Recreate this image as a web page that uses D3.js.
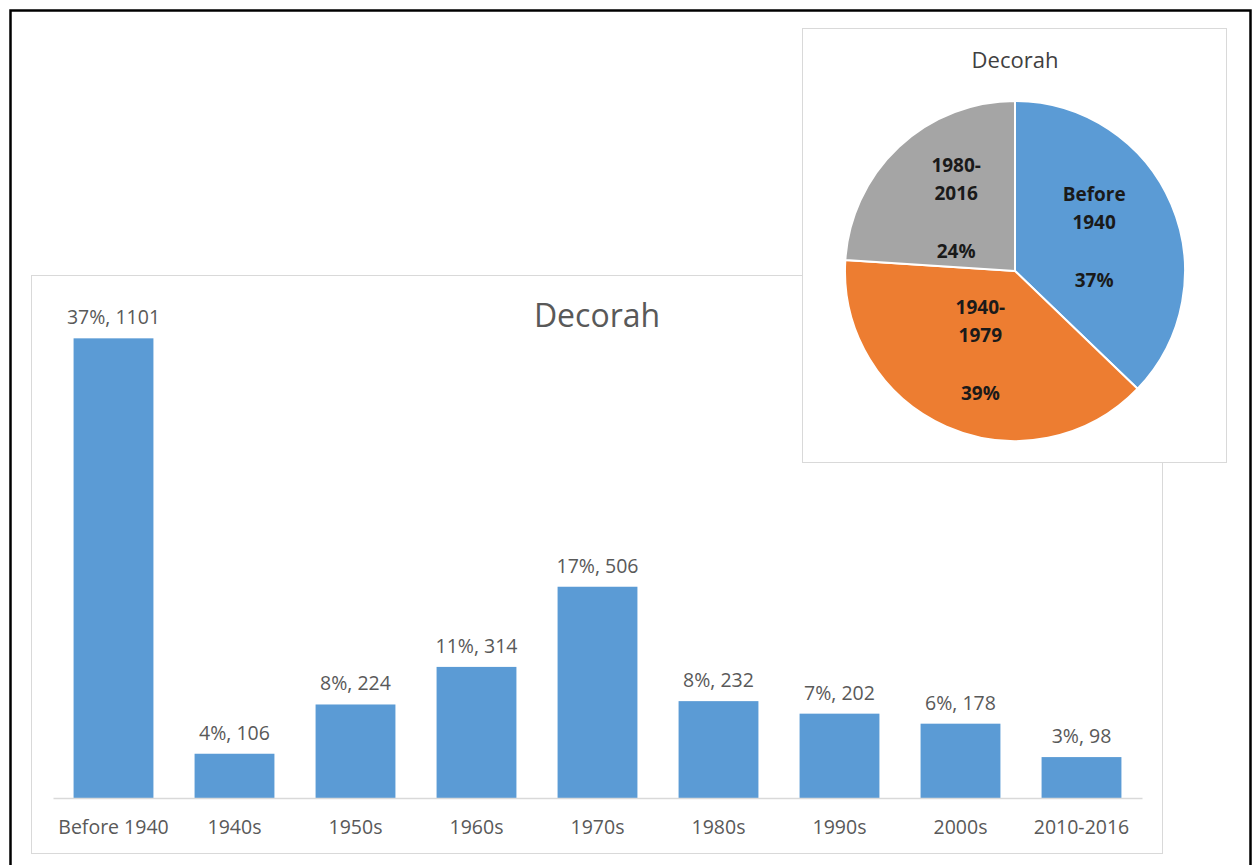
<!DOCTYPE html>
<html>
<head>
<meta charset="utf-8">
<script src="https://cdn.jsdelivr.net/npm/d3@7"></script>
<style>
  body { margin: 0; background: #fff; }
  svg { display: block; }
</style>
</head>
<body>
<svg id="chart" width="1260" height="865"></svg>
<script>
// 막대 차트 데이터
var categories = ["Before 1940", "1940s", "1950s", "1960s", "1970s", "1980s", "1990s", "2000s", "2010-2016"];
var counts = [1101, 106, 224, 314, 506, 232, 202, 178, 98];
var percents = [37, 4, 8, 11, 17, 8, 7, 6, 3];

// 파이 차트 데이터
var pieNames = [["Before", "1940"], ["1940-", "1979"], ["1980-", "2016"]];
var pieValues = [1101, 1150, 710];
var piePercents = [37, 39, 24];
var pieColors = ["#5B9BD5", "#ED7D31", "#A5A5A5"];

var svg = d3.select("#chart");
var font = "'Open Sans', 'Liberation Sans', sans-serif";

// 바깥 검은 테두리
svg.append("rect")
    .attr("x", 10.5).attr("y", 10.5)
    .attr("width", 1240).attr("height", 870)
    .attr("fill", "#fff")
    .attr("stroke", "#000")
    .attr("stroke-width", 2.5);

// 막대 차트 박스
svg.append("rect")
    .attr("x", 31.5).attr("y", 275.5)
    .attr("width", 1131).attr("height", 578)
    .attr("fill", "#fff")
    .attr("stroke", "#d9d9d9");

function drawBarChart() {
    var x = d3.scaleBand()
        .domain(categories)
        .range([53, 1142])
        .paddingInner(0.34)
        .paddingOuter(0.17);

    var y = d3.scaleLinear()
        .domain([0, 1200])
        .range([798, 297]);

    var g = svg.append("g");

    g.selectAll(".bar")
        .data(counts)
        .enter().append("rect")
        .attr("class", "bar")
        .attr("x", function(d, i) { return x(categories[i]); })
        .attr("y", function(d) { return y(d); })
        .attr("width", x.bandwidth())
        .attr("height", function(d) { return y(0) - y(d); })
        .attr("fill", "#5B9BD5");

    // x축
    var axis = g.append("g")
        .attr("transform", "translate(0," + y(0) + ")")
        .call(d3.axisBottom(x).tickSize(0).tickPadding(22));
    axis.select(".domain").attr("stroke", "#d9d9d9").attr("stroke-width", 1.5);
    axis.selectAll("text")
        .style("font-family", font)
        .style("font-size", "19.5px")
        .attr("fill", "#595959");

    // 막대 위 값 라벨
    g.selectAll(".value-text")
        .data(counts)
        .enter().append("text")
        .attr("class", "value-text")
        .attr("x", function(d, i) { return x(categories[i]) + x.bandwidth() / 2; })
        .attr("y", function(d) { return y(d) - 14; })
        .attr("text-anchor", "middle")
        .style("font-family", font)
        .style("font-size", "19.5px")
        .attr("fill", "#595959")
        .text(function(d, i) { return percents[i] + "%, " + d; });

    g.append("text")
        .attr("x", 597).attr("y", 327)
        .attr("text-anchor", "middle")
        .style("font-family", font)
        .style("font-size", "32px")
        .attr("fill", "#595959")
        .text("Decorah");
}

function drawPieChart() {
    svg.append("rect")
        .attr("x", 802.5).attr("y", 28.5)
        .attr("width", 424).attr("height", 434)
        .attr("fill", "#fff")
        .attr("stroke", "#d9d9d9");

    svg.append("text")
        .attr("x", 1015).attr("y", 68)
        .attr("text-anchor", "middle")
        .style("font-family", font)
        .style("font-size", "22px")
        .attr("fill", "#404040")
        .text("Decorah");

    var radius = 170;
    var pie = d3.pie().sort(null).value(function(d) { return d; });
    var arc = d3.arc().innerRadius(0).outerRadius(radius);
    var labelArc = d3.arc().innerRadius(86).outerRadius(86);

    var g = svg.append("g")
        .attr("transform", "translate(1015,271)");

    var slices = pie(pieValues);

    g.selectAll("path")
        .data(slices)
        .enter().append("path")
        .attr("d", arc)
        .attr("fill", function(d, i) { return pieColors[i]; })
        .attr("stroke", "#fff")
        .attr("stroke-width", 2);

    var labels = g.selectAll(".pie-label")
        .data(slices)
        .enter().append("text")
        .attr("class", "pie-label")
        .attr("transform", function(d) { return "translate(" + labelArc.centroid(d) + ")"; })
        .attr("text-anchor", "middle")
        .style("font-family", font)
        .style("font-size", "19px")
        .style("font-weight", "bold")
        .attr("fill", "#1a1a1a");

    labels.each(function(d, i) {
        var t = d3.select(this);
        var lines = [pieNames[i][0], pieNames[i][1], piePercents[i] + "%"];
        var offs = [-36, -8, 50];
        lines.forEach(function(s, k) {
            t.append("tspan").attr("x", 0).attr("y", offs[k]).text(s);
        });
    });
}

drawBarChart();
drawPieChart();
</script>
</body>
</html>
